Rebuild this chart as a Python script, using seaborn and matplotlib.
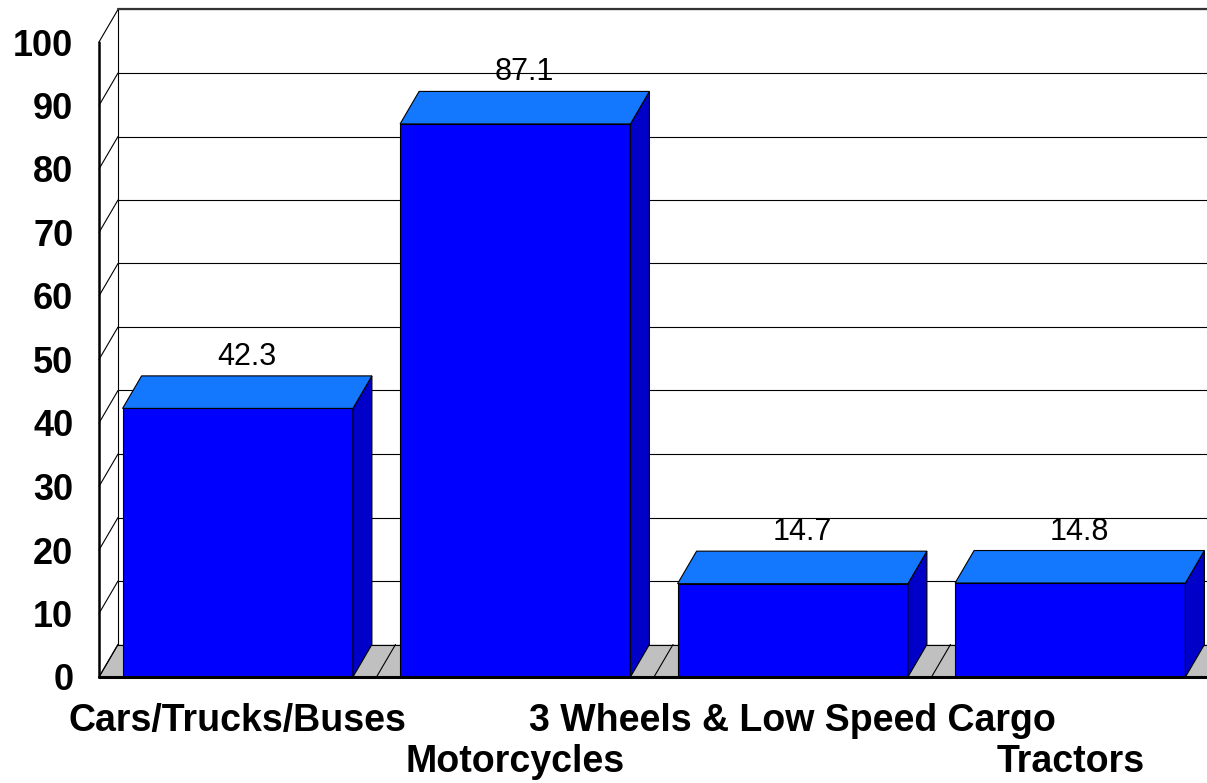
import matplotlib
matplotlib.use("Agg")
import matplotlib.pyplot as plt
from matplotlib.patches import Polygon
import numpy as np
import pandas as pd
import seaborn as sns

# data
categories = ["Cars/Trucks/Buses", "Motorcycles", "3 Wheels & Low Speed Cargo", "Tractors"]
values = [42.3, 87.1, 14.7, 14.8]
tick_labels = ["Cars/Trucks/Buses", "Motorcycles", "3 Wheels & Low Speed Cargo", "Tractors"]
y_ticks = list(range(0, 101, 10))

sns.set_style("white")
plt.rcParams["font.family"] = ["Liberation Sans", "DejaVu Sans"]
plt.rcParams["text.color"] = "black"
plt.rcParams["xtick.color"] = "black"
plt.rcParams["ytick.color"] = "black"

W, H, DPI = 1207, 783, 100
AX_W, AX_H = 1110, 635          # front plane size in pixels
DEPTH_X, DEPTH_Y = 19, 32.5     # fake 3D depth in pixels

fig = plt.figure(figsize=(W / DPI, H / DPI), dpi=DPI)
ax = fig.add_axes([99 / W, 106 / H, AX_W / W, AX_H / H])

df = pd.DataFrame({"cat": categories, "val": values})
sns.barplot(data=df, x="cat", y="val", color="#0000FF", saturation=1, width=0.83,
            edgecolor="black", linewidth=0.8, ax=ax, zorder=3)

ax.set_xlim(-0.5, len(categories) - 0.5)
ax.set_ylim(0, 100)
x0, x1 = ax.get_xlim()
y0, y1 = ax.get_ylim()

# depth converted to data units
dx = DEPTH_X * (x1 - x0) / AX_W
dy = DEPTH_Y * (y1 - y0) / AX_H

line_kw = dict(color="black", lw=0.8, clip_on=False, zorder=1)

# floor
ax.add_patch(Polygon([(x0, 0), (x1 + 1, 0), (x1 + 1 + dx, dy), (x0 + dx, dy)],
                     closed=True, facecolor="#C0C0C0", edgecolor="none",
                     clip_on=False, zorder=0.5))
for b in np.arange(x0, x1 + 0.01, 1):
    ax.plot([b, b + dx], [0, dy], **line_kw)

# back wall grid + side wall diagonals
for t in y_ticks:
    ax.plot([x0 + dx, x1 + 1], [t + dy, t + dy], **line_kw)
    ax.plot([x0, x0 + dx], [t, t + dy], **line_kw)
ax.plot([x0 + dx, x0 + dx], [dy, y1 + dy], **line_kw)
ax.plot([x0 + dx, x1 + 1], [y1 + dy, y1 + dy], color="#333333", lw=1.6, clip_on=False, zorder=1)

# front axes lines
ax.plot([x0, x0], [0, y1], color="black", lw=1.8, clip_on=False, zorder=4)
ax.plot([x0, x1 + 1], [0, 0], color="black", lw=2.2, clip_on=False, zorder=4)

# top and side faces of the bars
for bar, v in zip(ax.containers[0], values):
    bx, bw, bh = bar.get_x(), bar.get_width(), bar.get_height()
    top = Polygon([(bx, bh), (bx + bw, bh), (bx + bw + dx, bh + dy), (bx + dx, bh + dy)],
                  closed=True, facecolor="#1478FF", edgecolor="black", lw=0.8,
                  clip_on=False, zorder=3)
    side = Polygon([(bx + bw, 0), (bx + bw + dx, dy), (bx + bw + dx, bh + dy), (bx + bw, bh)],
                   closed=True, facecolor="#0000C8", edgecolor="black", lw=0.8,
                   clip_on=False, zorder=3)
    ax.add_patch(side)
    ax.add_patch(top)
    ax.text(bx + bw / 2 + dx / 2, bh + dy + 11 * (y1 - y0) / AX_H, f"{v:.1f}",
            ha="center", va="baseline", fontsize=22, zorder=5)

ax.set_yticks(y_ticks)
ax.set_yticklabels([str(t) for t in y_ticks], fontsize=26, fontweight="bold")
ax.set_xticks(range(len(categories)))
ax.set_xticklabels(tick_labels, fontsize=27, fontweight="bold")
ax.tick_params(axis="y", length=0, pad=18.5)
ax.tick_params(axis="x", length=0, pad=18.5)
# stagger: every second label one row lower
for i, tick in enumerate(ax.xaxis.get_major_ticks()):
    if i % 2 == 1:
        tick.set_pad(18.5 + 30)
ax.set_xlabel("")
ax.set_ylabel("")
sns.despine(ax=ax, left=True, bottom=True)

fig.savefig("out.png", dpi=DPI)
